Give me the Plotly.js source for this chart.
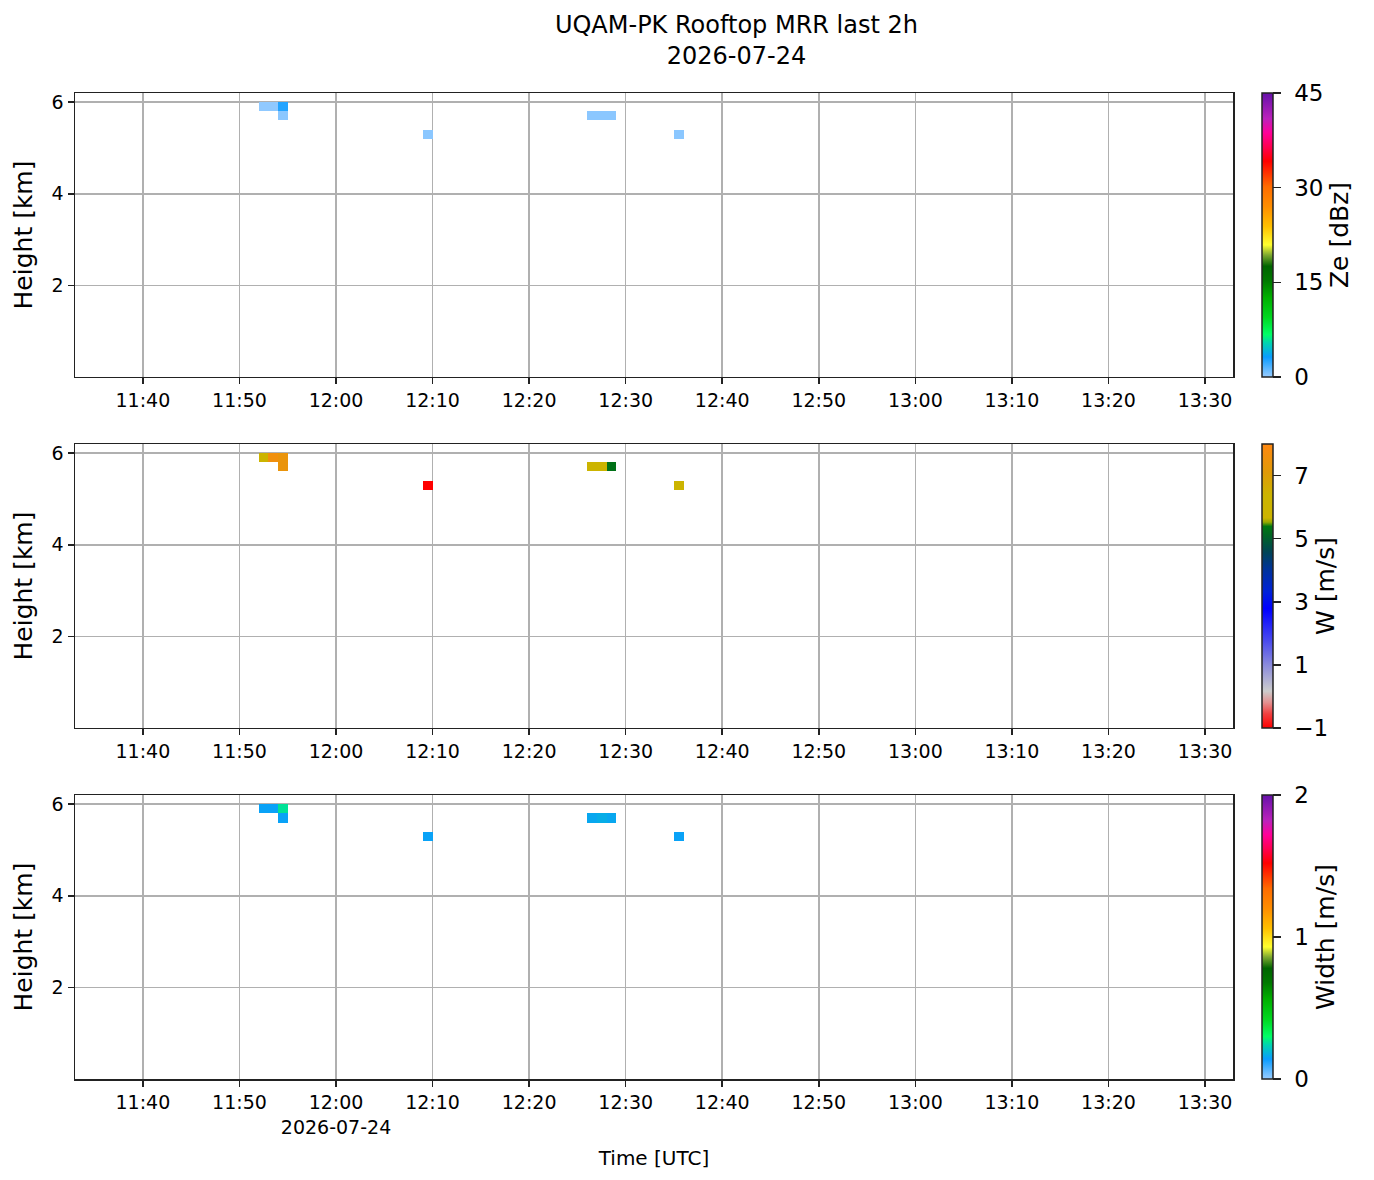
<!DOCTYPE html>
<html>
<head>
<meta charset="utf-8">
<script src="https://cdn.plot.ly/plotly-3.0.1.min.js"></script>
<style>
  body { margin: 0; background: #fff; }
  #chart { width: 1374px; height: 1180px; }
</style>
</head>
<body>
<div id="chart"></div>
<script>
// MRR gates with echo in the last 2h (start minute of each 1-min profile)
const obsTime   = ['11:52', '11:53', '11:54', '11:54', '12:09', '12:26', '12:27', '12:28', '12:35']
const obsHeight = [5.9, 5.9, 5.9, 5.7, 5.3, 5.7, 5.7, 5.7, 5.3]
const zeVals    = [0.2, 0.2, 2.6, 0.3, 0.3, 0.3, 0.3, 0.3, 0.3]
const wVals     = [6.2, 7.6, 7.4, 7.4, -1.0, 6.2, 6.3, 5.3, 6.2]
const widthVals = [0.15, 0.15, 0.26, 0.15, 0.15, 0.16, 0.17, 0.16, 0.15]

const tickTimes = ['11:40', '11:50', '12:00', '12:10', '12:20', '12:30', '12:40', '12:50', '13:00', '13:10', '13:20', '13:30']
const day = '2026-07-24'

// profile grid: 1 min columns from 11:33, 200 m gates from 0 km
const startMin = 11 * 60 + 33
const nCols = 120
const nGates = 31
const gate = 0.2

function toMin(s) {
    let p = s.split(':')
    return +p[0] * 60 + +p[1]
}

function makeGrid(vals) {
    let z = []
    for (let j = 0; j < nGates; j++) {
        z.push(new Array(nCols).fill(null))
    }
    for (let i = 0; i < vals.length; i++) {
        let col = toMin(obsTime[i]) - startMin
        let row = Math.round((obsHeight[i] - gate / 2) / gate)
        z[row][col] = vals[i]
    }
    return z
}

// rainbow used for Ze and spectral width
const rainbow = [
    [0.00, '#99ccff'], [0.07, '#0a9cff'], [0.12, '#00d4b0'], [0.15, '#00ff66'],
    [0.21, '#00d820'], [0.28, '#00b000'], [0.34, '#007800'], [0.39, '#006400'],
    [0.43, '#80aa30'], [0.465, '#ffff30'], [0.53, '#ffc000'], [0.60, '#ff8e00'],
    [0.67, '#ff6c00'], [0.76, '#ff0000'], [0.81, '#ff0050'], [0.86, '#ff0099'],
    [0.91, '#bb22bb'], [1.00, '#6611aa']
]

const velScale = [
    [0.00, '#ff0000'], [0.05, '#f04040'], [0.09, '#e49090'], [0.13, '#cccccc'],
    [0.22, '#8c8cdc'], [0.31, '#4848ee'], [0.42, '#0000ff'], [0.48, '#0022d8'],
    [0.56, '#003399'], [0.62, '#004455'], [0.68, '#006622'], [0.71, '#007711'],
    [0.725, '#99aa00'], [0.74, '#ccb400'], [0.82, '#ccb400'], [0.90, '#e09a08'],
    [1.00, '#ff8811']
]

const tickVals = tickTimes.map(t => day + ' ' + t)
const x0 = day + ' 11:33:30'

const fontFam = 'DejaVu Sans, Liberation Sans, sans-serif'

// invisible lead-in so the colorbar labels sit a little off the ticks
const pad = '<span style="color:rgba(0,0,0,0)">-</span>'

function cbar(title, vals, yc) {
    return {
        title: { text: title, side: 'right', font: { size: 25, family: fontFam, color: '#000' } },
        x: 1.025, xanchor: 'left', xref: 'paper', xpad: 0,
        y: yc, yanchor: 'middle', ypad: 0,
        len: 284, lenmode: 'pixels',
        thickness: 11,
        outlinecolor: '#222', outlinewidth: 1.5,
        ticks: 'outside', ticklen: 8, tickcolor: '#222', tickwidth: 1.5,
        tickmode: 'array',
        tickvals: vals,
        ticktext: vals.map(v => pad + String(v).replace('-', '\u2212')),
        tickfont: { size: 23, family: fontFam, color: '#000' }
    }
}

function heat(vals, scale, zmin, zmax, title, tvals, yc, n) {
    return {
        type: 'heatmap',
        z: makeGrid(vals),
        x0: x0, dx: 60000,
        y0: gate / 2, dy: gate,
        zmin: zmin, zmax: zmax,
        colorscale: scale,
        colorbar: cbar(title, tvals, yc),
        hoverongaps: false,
        xaxis: 'x' + (n == 1 ? '' : n),
        yaxis: 'y' + (n == 1 ? '' : n)
    }
}

let data = [
    heat(zeVals, rainbow, 0, 45, 'Ze [dBz]', [0, 15, 30, 45], 0.856, 1),
    heat(wVals, velScale, -1, 8, 'W [m/s]', [-1, 1, 3, 5, 7], 0.5, 2),
    heat(widthVals, rainbow, 0, 2, 'Width [m/s]', [0, 1, 2], 0.144, 3)
]

function xax(last) {
    let text = tickTimes.slice()
    if (last) text[2] = '12:00<br>' + day
    let ax = {
        type: 'date',
        range: [day + ' 11:32:58', day + ' 13:32:54'],
        tickvals: tickVals, ticktext: text,
        ticks: 'outside', ticklen: 6, tickcolor: '#222', tickwidth: 1.5,
        showgrid: true, gridcolor: '#b0b0b0', gridwidth: 1.5,
        showline: true, linecolor: '#222', linewidth: 1.5, mirror: true,
        zeroline: false,
        tickfont: { size: 19, family: fontFam, color: '#000' }
    }
    if (last) {
        ax.title = { text: 'Time [UTC]', font: { size: 20, family: fontFam, color: '#000' }, standoff: 14 }
    }
    return ax
}

function yax(dom, anchor) {
    return {
        domain: dom, anchor: anchor,
        range: [0, 6.2],
        tickvals: [2, 4, 6],
        ticks: 'outside', ticklen: 6, tickcolor: '#222', tickwidth: 1.5,
        showgrid: true, gridcolor: '#b0b0b0', gridwidth: 1.5,
        showline: true, linecolor: '#222', linewidth: 1.5, mirror: true,
        zeroline: false,
        tickfont: { size: 19, family: fontFam, color: '#000' },
        title: { text: 'Height [km]', font: { size: 25, family: fontFam, color: '#000' }, standoff: 12 }
    }
}

let layout = {
    width: 1374, height: 1180,
    margin: { l: 75, r: 141, t: 93, b: 101 },
    paper_bgcolor: '#fff', plot_bgcolor: '#fff',
    font: { family: fontFam, color: '#000' },
    title: {
        text: 'UQAM-PK Rooftop MRR last 2h<br>' + day,
        x: 0.536, xanchor: 'center', xref: 'container',
        y: 0.972, yanchor: 'top', yref: 'container',
        font: { size: 24, family: fontFam, color: '#000' }
    },
    xaxis: Object.assign(xax(false), { anchor: 'y' }),
    yaxis: yax([0.712, 1], 'x'),
    xaxis2: Object.assign(xax(false), { anchor: 'y2' }),
    yaxis2: yax([0.356, 0.644], 'x2'),
    xaxis3: Object.assign(xax(true), { anchor: 'y3' }),
    yaxis3: yax([0, 0.288], 'x3'),
    showlegend: false
}

Plotly.newPlot('chart', data, layout, { displayModeBar: false, staticPlot: true })
</script>
</body>
</html>
